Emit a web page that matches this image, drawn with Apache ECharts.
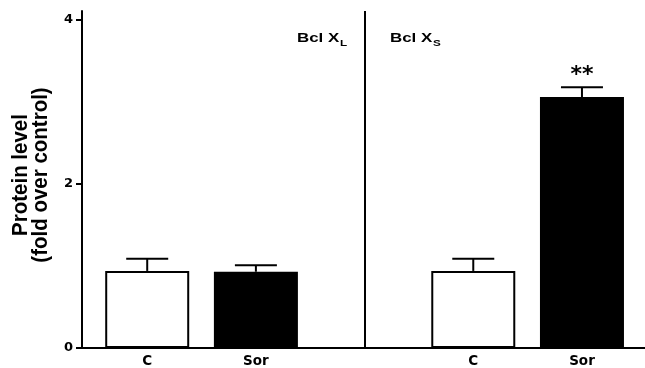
<!DOCTYPE html>
<html><head><meta charset="utf-8">
<script src="https://cdn.jsdelivr.net/npm/echarts@6/dist/echarts.min.js"></script>
<style>html,body{margin:0;padding:0;background:#fff}#c{width:645px;height:368px}</style>
</head><body><div id="c"></div>
<script>
var groups = ['Bcl X_L', 'Bcl X_S'];
var categories = ['C', 'Sor'];
var means = [[0.94, 0.93], [0.94, 3.06]];
var errors = [[0.15, 0.08], [0.15, 0.12]];
var marks = [['', ''], ['', '**']];
var yTicks = [0, 2, 4];

var F = '"DejaVu Sans", Verdana, sans-serif';
var H = '"Liberation Sans", Arial, Helvetica, sans-serif';
var pts = [];
groups.forEach(function (g, gi) {
  categories.forEach(function (c, ci) {
    pts.push({ x: gi * 3 + ci + 1, y: means[gi][ci], e: errors[gi][ci], m: marks[gi][ci], c: c, ci: ci });
  });
});
var labelMap = {};
pts.forEach(function (p) { labelMap[p.x] = p.c; });

var chart = echarts.init(document.getElementById('c'), null, { renderer: 'canvas' });
chart.setOption({
  animation: false,
  backgroundColor: '#fff',
  grid: { left: 82, right: 0, top: 11, bottom: 19 },
  xAxis: {
    type: 'value', min: 0.4, max: 5.58,
    splitLine: { show: false },
    axisLine: { show: true, onZero: false, lineStyle: { color: '#000', width: 2 } },
    axisTick: { show: false },
    axisLabel: {
      customValues: pts.map(function (p) { return p.x; }),
      formatter: function (v) { return labelMap[v] || ''; },
      color: '#000', fontFamily: F, fontWeight: 'bold', fontSize: 13.5, margin: 6
    }
  },
  yAxis: {
    type: 'value', min: 0, max: 4.11,
    splitLine: { show: false },
    axisLine: { show: true, lineStyle: { color: '#000', width: 2 } },
    axisTick: { show: true, customValues: yTicks, length: 6, lineStyle: { color: '#000', width: 2 } },
    axisLabel: { customValues: yTicks, color: '#000', fontFamily: F, fontWeight: 'bold', fontSize: 13, margin: 9 }
  },
  series: [
    {
      type: 'bar',
      barWidth: 84,
      data: pts.map(function (p) {
        return {
          value: [p.x, p.y],
          itemStyle: p.ci === 0 ? { color: '#fff', borderColor: '#000', borderWidth: 2 } : { color: '#000', borderColor: '#000', borderWidth: 2 }
        };
      }),
      markLine: {
        silent: true, symbol: 'none', label: { show: false },
        lineStyle: { color: '#000', width: 2, type: 'solid' },
        data: [{ xAxis: 3 }]
      },
      z: 2
    },
    {
      type: 'custom',
      data: pts.map(function (p) { return [p.x, p.y, p.e]; }),
      renderItem: function (params, api) {
        var x = api.value(0), y = api.value(1), e = api.value(2);
        var top = api.coord([x, y]);
        var cap = api.coord([x, y + e]);
        var hw = 21;
        var p = pts[params.dataIndex];
        var children = [
          { type: 'line', shape: { x1: top[0], y1: top[1], x2: cap[0], y2: cap[1] }, style: { stroke: '#000', lineWidth: 2 } },
          { type: 'line', shape: { x1: cap[0] - hw, y1: cap[1], x2: cap[0] + hw, y2: cap[1] }, style: { stroke: '#000', lineWidth: 2 } }
        ];
        if (p.m) {
          children.push({ type: 'text', style: { text: p.m, x: cap[0], y: cap[1] - 12, align: 'center', verticalAlign: 'middle', fill: '#000', font: 'bold 22px ' + F } });
        }
        return { type: 'group', children: children };
      },
      z: 3
    }
  ],
  graphic: [
    {
      type: 'text', x: 31, y: 175, rotation: Math.PI / 2, scaleY: 1.12,
      style: { text: 'Protein level\n(fold over control)', align: 'center', verticalAlign: 'middle', fill: '#000', font: 'bold 20.5px ' + H, lineHeight: 17.8 }
    },
    {
      type: 'text', x: 297, y: 28, scaleX: 1.3,
      style: {
        text: 'Bcl X{s|L}', fill: '#000', font: 'bold 13px ' + H,
        rich: { s: { fontSize: 9, fontWeight: 'bold', fontFamily: H, padding: [11, 0, 0, 0.5] } }
      }
    },
    {
      type: 'text', x: 390, y: 28, scaleX: 1.3,
      style: {
        text: 'Bcl X{s|S}', fill: '#000', font: 'bold 13px ' + H,
        rich: { s: { fontSize: 9, fontWeight: 'bold', fontFamily: H, padding: [11, 0, 0, 0.5] } }
      }
    }
  ]
});
</script>
</body></html>
